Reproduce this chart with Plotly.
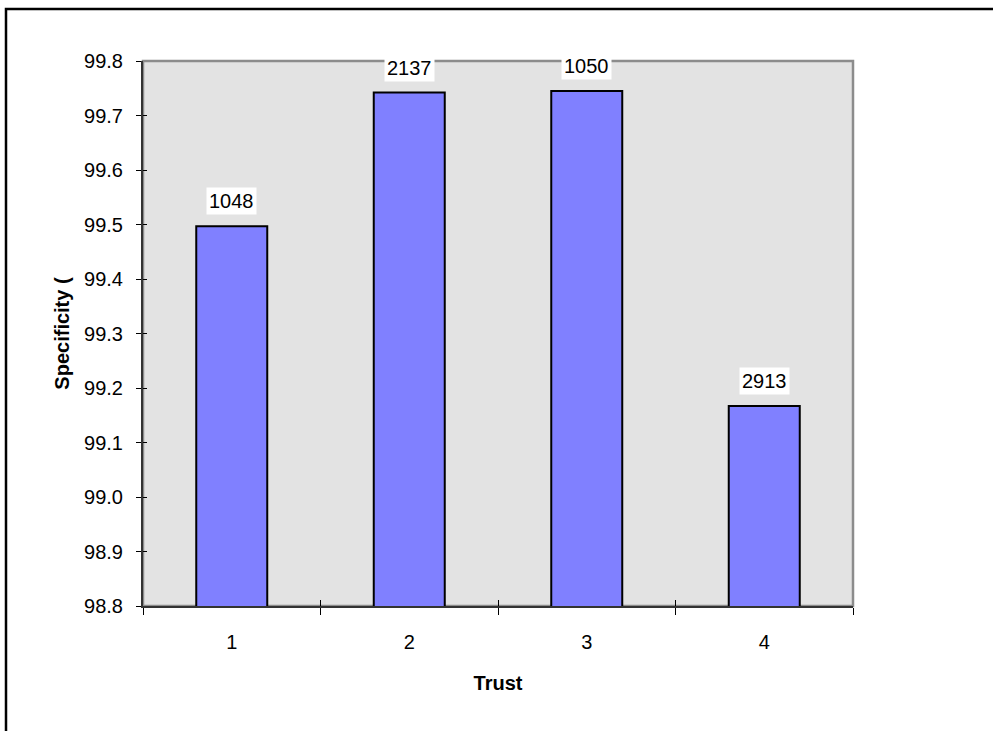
import plotly.graph_objects as go

categories = ["1", "2", "3", "4"]
specificity = [99.497, 99.742, 99.745, 99.167]
counts = ["1048", "2137", "1050", "2913"]
y_ticks = [98.8, 98.9, 99.0, 99.1, 99.2, 99.3, 99.4, 99.5, 99.6, 99.7, 99.8]
y_tick_text = ["98.8", "98.9", "99.0", "99.1", "99.2", "99.3", "99.4", "99.5", "99.6", "99.7", "99.8"]

FONT = "Liberation Sans, Arial, sans-serif"
W, H = 993, 731
L, R, T, B = 143, 140, 61, 125
pw, ph = W - L - R, H - T - B

fig = go.Figure()
fig.add_trace(go.Bar(
    x=categories, y=specificity, width=0.4,
    marker=dict(color="#8080FF", line=dict(color="#000000", width=2)),
    hoverinfo="x+y", showlegend=False,
))

for i, (v, t) in enumerate(zip(specificity, counts)):
    fig.add_annotation(
        x=i, y=v, text=t, showarrow=False, yanchor="bottom", xanchor="center",
        yshift=11, bgcolor="#FFFFFF", borderpad=2,
        font=dict(family=FONT, size=20, color="#000000"),
    )

# outer chart border (top and left visible, right/bottom cropped)
fig.add_shape(type="rect", xref="paper", yref="paper",
              x0=(6 - L) / pw, x1=1.6, y0=-0.6, y1=1 + (T - 9) / ph,
              line=dict(color="#000000", width=2.5), fillcolor="rgba(0,0,0,0)", layer="above")
# plot area frame
fig.add_shape(type="rect", xref="paper", yref="paper", x0=0, x1=1, y0=0, y1=1,
              line=dict(color="#8C8C8C", width=2.5), fillcolor="rgba(0,0,0,0)", layer="below")

fig.update_layout(
    width=W, height=H,
    margin=dict(l=L, r=R, t=T, b=B, pad=0),
    paper_bgcolor="#FFFFFF", plot_bgcolor="#E3E3E3",
    font=dict(family=FONT, size=20, color="#000000"),
    xaxis=dict(
        type="category", range=[-0.5, 3.5], tickson="boundaries", ticks="outside", ticklen=7,
        tickcolor="#000000", tickwidth=1, showgrid=False, zeroline=False,
        showline=True, linecolor="#333333", linewidth=2,
        ticklabelstandoff=17,
        tickfont=dict(family=FONT, size=20),
        title=dict(text="<b>Trust</b>", font=dict(family=FONT, size=20), standoff=24),
    ),
    yaxis=dict(
        range=[98.8, 99.8], tickmode="array", tickvals=y_ticks, ticktext=y_tick_text,
        ticks="outside", ticklen=5, tickcolor="#000000", tickwidth=1,
        showgrid=False, zeroline=False, showline=True, linecolor="#333333", linewidth=2,
        ticklabelstandoff=9,
        tickfont=dict(family=FONT, size=20),
        title=dict(text="<b>Specificity (</b>", font=dict(family=FONT, size=20), standoff=9),
    ),
    xaxis2=dict(overlaying="x", range=[-0.5, 3.5], tickmode="linear", tick0=-0.5, dtick=1,
                ticks="inside", ticklen=6, tickcolor="#000000", tickwidth=1,
                showticklabels=False, showgrid=False, zeroline=False, showline=False),
    yaxis2=dict(overlaying="y", range=[98.8, 99.8], tickmode="array", tickvals=y_ticks,
                ticks="inside", ticklen=4, tickcolor="#000000", tickwidth=1,
                showticklabels=False, showgrid=False, zeroline=False, showline=False),
    bargap=0.6,
)
fig.add_trace(go.Scatter(x=[], y=[], xaxis="x2", yaxis="y2", showlegend=False, hoverinfo="skip"))

fig.write_html("out.html", config={"displayModeBar": False},
               post_script="document.body.style.margin='0px';")
